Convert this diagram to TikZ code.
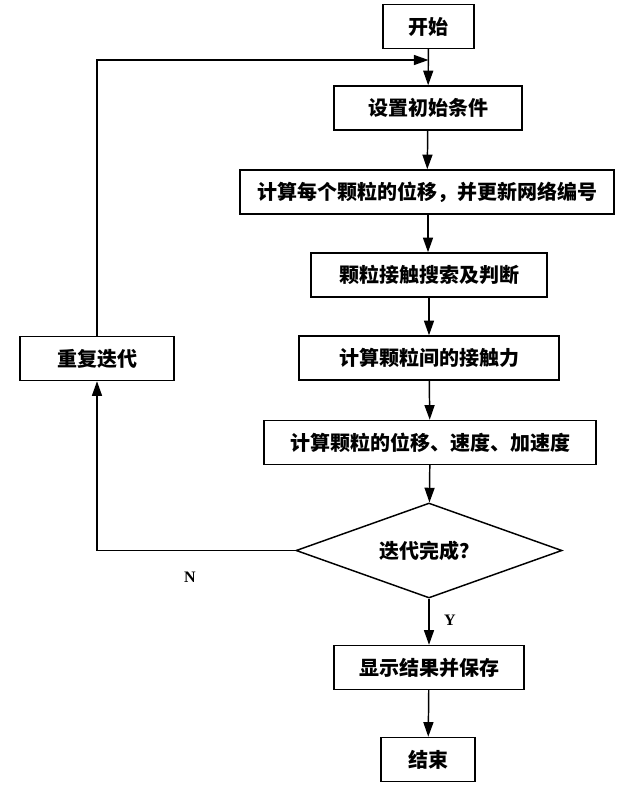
\documentclass[tikz,border=0pt]{standalone}
\usepackage{fontspec}
\setmainfont{Liberation Serif}
\newfontfamily\cjk{Noto Sans CJK SC}
\usetikzlibrary{shapes.geometric,arrows.meta}
\begin{document}
\begin{tikzpicture}[x=0.75pt,y=-0.75pt,
  every node/.style={font=\cjk\bfseries\fontsize{15pt}{17pt}\selectfont},
  box/.style={draw,line width=1.1pt,rectangle,inner sep=0pt,minimum height=33pt},
  dia/.style={draw,line width=1.1pt,diamond,inner sep=0pt,aspect=2.8,minimum width=199.5pt,minimum height=71.25pt},
  arr/.style={line width=1.1pt,-{Triangle[length=11pt,width=7.5pt]}},
  lab/.style={font=\rmfamily\bfseries\fontsize{12pt}{14pt}\selectfont}]
\useasboundingbox (0,0) rectangle (638,805);
\node[box,minimum width=68pt] (start) at (428.5,26.5) {开始};
\node[box,minimum width=141pt] (s1) at (428,108) {设置初始条件};
\node[box,minimum width=280.5pt] (s2) at (427,192) {计算每个颗粒的位移，并更新网络编号};
\node[box,minimum width=177pt] (s3) at (429,275) {颗粒接触搜索及判断};
\node[box,minimum width=195pt] (s4) at (429,358) {计算颗粒间的接触力};
\node[box,minimum width=249pt] (s5) at (430,442.5) {计算颗粒的位移、速度、加速度};
\node[dia] (d) at (429,550.5) {迭代完成？};
\node[box,minimum width=142.5pt] (s6) at (429,667.5) {显示结果并保存};
\node[box,minimum width=70.5pt] (end) at (428,759.5) {结束};
\node[box,minimum width=115.5pt] (rep) at (97,358.5) {重复迭代};
\coordinate (j) at (428.5,60);
\coordinate (tl) at (97,60);
\coordinate (bl) at (97,550.5);
\node[lab] (N) at (190,577) {N};
\node[lab] (Y) at (450,620) {Y};
\draw[arr] (start) -- (s1);
\draw[arr] (s1) -- (s2);
\draw[arr] (s2.south -| s1) -- (s1 |- s3.north);
\draw[arr] (s3) -- (s4);
\draw[arr] (s4) -- (s5);
\draw[arr] (s5) -- (d);
\draw[arr] (d) -- (s6);
\draw[arr] (s6) -- (end);
\draw[arr] (d.west) -- (bl) -- (rep.south);
\draw[arr] (rep.north) -- (tl) -- (j);
\end{tikzpicture}
\end{document}
